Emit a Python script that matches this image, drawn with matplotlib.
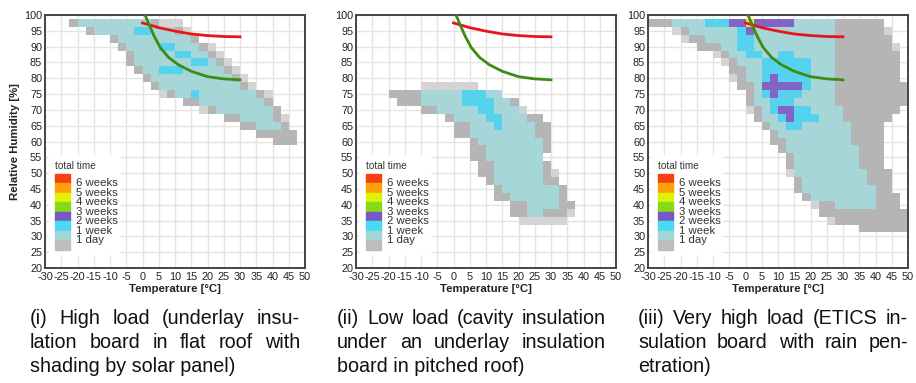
import numpy as np
import matplotlib
matplotlib.use("Agg")
import matplotlib.pyplot as plt
from matplotlib.colors import ListedColormap
from matplotlib.patches import Rectangle

plt.rcParams['font.family'] = ['Liberation Sans', 'DejaVu Sans']
plt.rcParams['axes.unicode_minus'] = False

# ---- data: rows of (RH class, T from, T to) per exposure level ----
# (i) high load
p1_light = [(97.5, -22.5, 12.5), (95, -17.5, 15), (92.5, -10, 17.5), (90, -7.5, 22.5), (87.5, -5, 25),
            (85, -5, 27.5), (82.5, -2.5, 30), (80, 0, 32.5), (77.5, 2.5, 35), (75, 5, 40), (72.5, 12.5, 40),
            (70, 17.5, 42.5), (67.5, 25, 45), (65, 30, 45), (62.5, 35, 47.5), (60, 40, 47.5)]
p1_grey = [(97.5, -22.5, 5), (95, -17.5, 12.5), (92.5, -10, 17.5), (90, -7.5, 20), (87.5, -5, 22.5),
           (85, -5, 25), (82.5, -2.5, 27.5), (80, 0, 30), (77.5, 2.5, 32.5), (75, 7.5, 37.5), (72.5, 12.5, 40),
           (70, 20, 42.5), (67.5, 25, 42.5), (65, 30, 45), (62.5, 35, 47.5), (60, 40, 47.5)]
p1_teal = [(97.5, -20, 2.5), (95, -15, 10), (92.5, -7.5, 15), (90, -5, 17.5), (87.5, -2.5, 20),
           (85, -2.5, 22.5), (82.5, 0, 25), (80, 2.5, 27.5), (77.5, 5, 30), (75, 10, 35), (72.5, 17.5, 37.5),
           (70, 22.5, 40), (67.5, 30, 40), (65, 35, 42.5)]
p1_cyan = [(95, -2.5, 2.5), (90, 5, 10), (87.5, 10, 15), (85, 15, 20), (82.5, 5, 12.5), (75, 15, 17.5)]
p1_purple = []
p1_yellow = []

# (ii) low load
p2_light = [(77.5, -10, 7.5), (75, -20, 15), (72.5, -17.5, 20), (70, -10, 22.5), (67.5, -2.5, 27.5),
            (65, 0, 30), (62.5, 0, 30), (60, 5, 30), (57.5, 5, 30), (55, 5, 27.5), (52.5, 7.5, 30),
            (50, 7.5, 32.5), (47.5, 10, 32.5), (45, 12.5, 35), (42.5, 12.5, 35), (40, 17.5, 37.5),
            (37.5, 17.5, 37.5), (35, 20, 35)]
p2_grey = [(75, -20, 15), (72.5, -17.5, 20), (70, -10, 20), (67.5, -2.5, 27.5), (65, 0, 30), (62.5, 0, 30),
           (60, 5, 30), (57.5, 5, 30), (55, 5, 27.5), (52.5, 7.5, 30), (50, 7.5, 30), (47.5, 10, 32.5),
           (45, 12.5, 35), (42.5, 12.5, 35), (40, 17.5, 37.5), (37.5, 17.5, 35)]
p2_teal = [(75, -10, 15), (72.5, -10, 17.5), (70, -5, 20), (67.5, 0, 22.5), (65, 5, 25), (62.5, 5, 25),
           (60, 7.5, 27.5), (57.5, 10, 27.5), (55, 10, 27.5), (52.5, 12.5, 27.5), (50, 12.5, 27.5),
           (47.5, 12.5, 27.5), (45, 15, 32.5), (42.5, 17.5, 32.5), (40, 22.5, 32.5), (37.5, 22.5, 27.5)]
p2_cyan = [(75, 2.5, 10), (72.5, 2.5, 12.5), (70, 7.5, 12.5), (67.5, 10, 15), (65, 12.5, 15)]
p2_purple = []
p2_yellow = []

# (iii) very high load
p3_light = [(97.5, -30, 42.5), (95, -22.5, 45), (92.5, -20, 45), (90, -15, 47.5), (87.5, -10, 47.5),
            (85, -7.5, 47.5), (82.5, -5, 47.5), (80, -5, 47.5), (77.5, -2.5, 50), (75, 0, 50), (72.5, 0, 50),
            (70, 0, 47.5), (67.5, 2.5, 45), (65, 5, 42.5), (62.5, 7.5, 42.5), (60, 7.5, 42.5), (57.5, 10, 42.5),
            (55, 12.5, 42.5), (52.5, 12.5, 42.5), (50, 12.5, 45), (47.5, 15, 45), (45, 15, 45),
            (42.5, 17.5, 47.5), (40, 20, 47.5), (37.5, 22.5, 50), (35, 25, 50), (32.5, 35, 50)]
p3_grey = [(97.5, -30, 42.5), (95, -20, 42.5), (92.5, -17.5, 45), (90, -15, 45), (87.5, -7.5, 47.5),
           (85, -5, 47.5), (82.5, -5, 47.5), (80, -2.5, 47.5), (77.5, -2.5, 50), (75, 0, 50), (72.5, 0, 50),
           (70, 2.5, 47.5), (67.5, 2.5, 45), (65, 5, 42.5), (62.5, 7.5, 42.5), (60, 7.5, 42.5),
           (57.5, 10, 42.5), (55, 12.5, 42.5), (52.5, 12.5, 42.5), (50, 15, 45), (47.5, 15, 45), (45, 15, 45),
           (42.5, 17.5, 47.5), (40, 22.5, 47.5), (37.5, 22.5, 50), (35, 27.5, 50), (32.5, 35, 50)]
p3_teal = [(97.5, -22.5, 27.5), (95, -17.5, 27.5), (92.5, -12.5, 27.5), (90, -7.5, 27.5), (87.5, -5, 27.5),
           (85, -2.5, 27.5), (82.5, 0, 27.5), (80, 0, 27.5), (77.5, 2.5, 27.5), (75, 2.5, 27.5),
           (72.5, 2.5, 27.5), (70, 5, 30), (67.5, 5, 30), (65, 7.5, 32.5), (62.5, 10, 32.5), (60, 12.5, 32.5),
           (57.5, 12.5, 35), (55, 15, 35), (52.5, 15, 35), (50, 15, 37.5), (47.5, 17.5, 37.5), (45, 17.5, 40),
           (42.5, 20, 40), (40, 27.5, 40)]
p3_cyan = [(97.5, -12.5, -5), (95, -2.5, 0), (92.5, -2.5, 2.5), (90, -2.5, 2.5), (87.5, 0, 5),
           (87.5, 10, 15), (85, 5, 20), (82.5, 5, 20), (80, 5, 20), (77.5, 17.5, 20), (75, 5, 17.5),
           (72.5, 7.5, 15), (70, 7.5, 20), (67.5, 10, 22.5), (65, 12.5, 17.5)]
p3_purple = [(97.5, -5, 0), (97.5, 2.5, 15), (95, 0, 2.5), (80, 7.5, 10), (77.5, 5, 17.5), (75, 7.5, 10),
             (70, 10, 15), (67.5, 12.5, 15)]
p3_yellow = [(97.5, 0, 2.5)]

# isopleth curves
red_t = [0, 5, 10, 15, 20, 25, 30]
red_rh = [97.5, 96.0, 94.9, 94.0, 93.5, 93.2, 93.1]
green_t = [0.8, 2, 3.5, 5.4, 8, 11, 15, 20, 25, 30]
green_rh = [100, 97, 93.5, 89.8, 86.6, 84.3, 82.2, 80.5, 79.8, 79.5]

legend_labels = ['6 weeks', '5 weeks', '4 weeks', '3 weeks', '2 weeks', '1 week', '1 day']
legend_colors = ['#f5410f', '#fca10a', '#dff20a', '#86d916', '#7a58c4', '#4ad9f5', '#a2d6d8', '#bdbdbd']

captions = [
    ["(i) High load (underlay insu-", "lation board in flat roof with", "shading by solar panel)"],
    ["(ii) Low load (cavity insulation", "under an underlay insulation", "board in pitched roof)"],
    ["(iii) Very high load (ETICS in-", "sulation board with rain pen-", "etration)"],
]

cell_colors = ['#d4d4d4', '#b5b5b5', '#a6d6d8', '#55d2ee', '#8264c6', '#e2ee2a']
cmap = ListedColormap(cell_colors)

t_edges = np.arange(-30, 50.01, 2.5)
rh_edges = np.arange(18.75, 101.26, 2.5)


def build(layers):
    g = np.zeros((len(rh_edges) - 1, len(t_edges) - 1))
    for level, rows in enumerate(layers, start=1):
        for rh, lo, hi in rows:
            i = int(round((rh - 20) / 2.5))
            cols = (t_edges[:-1] >= lo - 1e-6) & (t_edges[1:] <= hi + 1e-6)
            g[i, cols] = level
    return np.ma.masked_equal(g, 0)


panels = [
    [p1_light, p1_grey, p1_teal, p1_cyan, p1_purple, p1_yellow],
    [p2_light, p2_grey, p2_teal, p2_cyan, p2_purple, p2_yellow],
    [p3_light, p3_grey, p3_teal, p3_cyan, p3_purple, p3_yellow],
]

W, H = 916, 383
fig = plt.figure(figsize=(W / 100, H / 100), dpi=100)
lefts = [45, 356, 648]
cap_x = [(30, 300), (337, 606), (638, 908)]

for k, layers in enumerate(panels):
    ax = fig.add_axes([lefts[k] / W, (H - 268) / H, 260 / W, 253 / H])
    ax.pcolormesh(t_edges, rh_edges, build(layers), cmap=cmap, vmin=0.5, vmax=6.5)
    ax.plot(red_t, red_rh, color='#e8141e', lw=2.0, zorder=3)
    ax.plot(green_t, green_rh, color='#3c8c12', lw=2.0, zorder=3)
    ax.set_xlim(-30, 50)
    ax.set_ylim(20, 100)
    ax.set_xticks(np.arange(-30, 51, 5))
    ax.set_yticks(np.arange(20, 101, 5))
    ax.set_axisbelow(True)
    ax.grid(True, color='#e4e4e4', lw=1.0)
    ax.tick_params(length=0, labelsize=7.8, colors='#222222')
    ax.tick_params(axis='x', pad=3)
    ax.tick_params(axis='y', pad=2)
    for s in ax.spines.values():
        s.set_color('#444444')
        s.set_linewidth(1.4)
    ax.set_xlabel('Temperature [°C]', fontsize=8.2, fontweight='bold', labelpad=1, color='#222222')
    if k == 0:
        ax.set_ylabel('Relative Humidity [%]', fontsize=8.2, fontweight='bold', labelpad=3, color='#222222')

    # legend
    ax.add_patch(Rectangle((0.015, 0.055), 0.27, 0.39, transform=ax.transAxes, color='white', zorder=4))
    ax.text(0.038, 0.405, 'total time', transform=ax.transAxes, fontsize=7.2, va='center', zorder=5,
            color='#333333')
    top, seg = 0.3715, 0.0375
    for i, c in enumerate(legend_colors):
        ax.add_patch(Rectangle((0.038, top - (i + 1) * seg), 0.058, seg, transform=ax.transAxes,
                               color=c, zorder=5))
    for i, lab in enumerate(legend_labels):
        ax.text(0.118, top - (i + 1) * seg, lab, transform=ax.transAxes, fontsize=8.2, va='center',
                zorder=5, color='#333333')

# captions, justified
fig.canvas.draw()
r = fig.canvas.get_renderer()
cap_kw = dict(fontsize=14.2, family=['Liberation Sans'], va='center', color='#111111')
for k, lines in enumerate(captions):
    x0, x1 = cap_x[k][0] / W, cap_x[k][1] / W
    for j, line in enumerate(lines):
        y = 1 - (318 + 24.5 * j) / H
        words = line.split(' ')
        if j == len(lines) - 1:
            fig.text(x0, y, line, **cap_kw)
            continue
        ts = [fig.text(0, y, w, **cap_kw) for w in words]
        widths = [t.get_window_extent(r).width / fig.bbox.width for t in ts]
        gap = (x1 - x0 - sum(widths)) / (len(words) - 1)
        x = x0
        for t, w in zip(ts, widths):
            t.set_x(x)
            x += w + gap

fig.savefig('out.png', dpi=100)
